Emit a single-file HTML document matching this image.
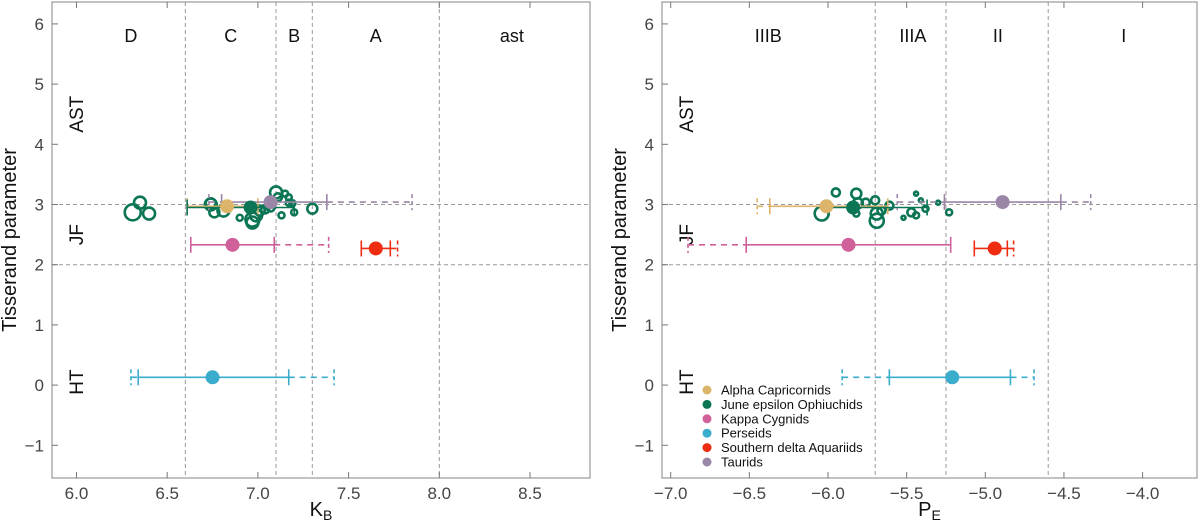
<!DOCTYPE html>
<html><head><meta charset="utf-8"><style>
body{margin:0;background:#fff;}
svg{display:block;font-family:"Liberation Sans",Arial,sans-serif;}
</style></head><body>
<svg id="chart" width="1200" height="525" viewBox="0 0 1200 525"></svg>
<script>
const NS='http://www.w3.org/2000/svg';
const svg=document.getElementById('chart');
// ---- data ----
const yTicks=[6,5,4,3,2,1,0,-1];
const leftXTicks=[6.0,6.5,7.0,7.5,8.0,8.5];
const rightXTicks=[-7.0,-6.5,-6.0,-5.5,-5.0,-4.5,-4.0];
const leftVLines=[6.6,7.1,7.3,8.0];
const rightVLines=[-5.7,-5.25,-4.6];
const hLines=[3,2];
const leftRegions=[['D',6.3],['C',6.85],['B',7.2],['A',7.65],['ast',8.4]];
const rightRegions=[['IIIB',-6.38],['IIIA',-5.46],['II',-4.92],['I',-4.12]];
const typeLabels=[['AST',4.5],['JF',2.5],['HT',0.05]];
const showers=['Alpha Capricornids','June epsilon Ophiuchids','Kappa Cygnids','Perseids','Southern delta Aquariids','Taurids'];
const colors=['#dcb56a','#0b7555','#d0609a','#3aaccc','#ee2c12','#9a86a6'];
const tisserand=[2.97,2.95,2.33,0.13,2.27,3.04];
// [point, solidLo, solidHi, dashLo, dashHi] (null = none)
const leftBars=[[6.83,6.61,7.0,null,null],[6.96,6.61,7.2,null,null],[6.86,6.63,7.09,null,7.39],[6.75,6.34,7.17,6.30,7.42],[7.65,7.57,7.73,null,7.77],[7.07,6.80,7.38,6.73,7.85]];
const rightBars=[[-6.01,-6.37,-5.62,-6.45,null],[-5.84,-6.0,-5.37,null,null],[-5.87,-6.52,-5.22,-6.89,null],[-5.21,-5.61,-4.84,-5.91,-4.69],[-4.94,-5.07,-4.86,null,-4.82],[-4.89,-5.26,-4.52,-5.56,-4.33]];
const leftOpen=[[6.74,3.02,5],[6.76,2.87,5],[6.81,2.90,6],[6.90,2.78,3],[6.97,2.75,7],[6.99,2.82,6],[7.01,2.90,5],[7.04,2.92,4],[7.07,2.95,4],[7.10,3.20,6],[7.11,3.12,4],[7.15,3.18,3],[7.17,3.12,3],[7.17,3.03,3],[7.19,3.02,3],[7.20,2.87,3],[7.13,2.82,3],[7.30,2.93,5],[6.97,2.70,6],[6.31,2.87,8],[6.35,3.03,6],[6.40,2.85,6],[6.74,3.0,6]];
const rightOpen=[[-5.95,3.20,4],[-6.04,2.85,7],[-5.82,3.18,5],[-5.81,3.02,5],[-5.76,3.03,4],[-5.70,3.07,4],[-5.69,2.85,6],[-5.69,2.73,7],[-5.61,2.98,4],[-5.66,2.90,4],[-5.52,2.78,2],[-5.47,2.87,4],[-5.44,3.18,2],[-5.41,3.07,2],[-5.44,2.82,3],[-5.38,2.93,3],[-5.30,3.03,2],[-5.23,2.87,3],[-5.82,2.85,3]];

function el(tag,attrs,parent,text){const e=document.createElementNS(NS,tag);for(const k in attrs)e.setAttribute(k,attrs[k]);if(text!==undefined)e.textContent=text;(parent||svg).appendChild(e);return e;}
const Y=v=>204.5-(v-3)*60.2;
const TOP=2,BOT=478;

function panel(cfg){
  const g=el('g',{});
  
  
  const X=cfg.X;
  cfg.vlines.forEach(v=>{const l=el('line',{x1:X(v),x2:X(v),y1:TOP,y2:BOT,stroke:'#999','stroke-width':1,'stroke-dasharray':'4,3'},g);
    });
  hLines.forEach(v=>{const l=el('line',{x1:cfg.L,x2:cfg.R,y1:Y(v),y2:Y(v),stroke:'#999','stroke-width':1,'stroke-dasharray':'4,3'},g);
    });
  const f=el('rect',{x:cfg.L,y:TOP,width:cfg.R-cfg.L,height:BOT-TOP,fill:'none',stroke:'#999','stroke-width':1.2},g);
  
  yTicks.forEach(v=>{el('line',{x1:cfg.L,x2:cfg.L+6,y1:Y(v),y2:Y(v),stroke:'#777'},g);
    const t=el('text',{x:cfg.L-8,y:Y(v)+6,'text-anchor':'end','font-size':17,fill:'#444'},g,v<0?'\u2212'+Math.abs(v):String(v));
    });
  cfg.xticks.forEach(v=>{el('line',{x1:X(v),x2:X(v),y1:BOT,y2:BOT-6,stroke:'#777'},g);el('line',{x1:X(v),x2:X(v),y1:TOP,y2:TOP+6,stroke:'#777'},g);
    const s=v.toFixed(1);const t=el('text',{x:X(v),y:499,'text-anchor':'middle','font-size':17,fill:'#444'},g,v<0?'\u2212'+s.slice(1):s);
    });
  cfg.regions.forEach(r=>{const t=el('text',{x:X(r[1]),y:42,'text-anchor':'middle','font-size':18,fill:'#111'},g,r[0]);
    });
  typeLabels.forEach(r=>{const x=cfg.L+31,y=Y(r[1]);const t=el('text',{x:x,y:y,'text-anchor':'middle','font-size':19,fill:'#111',transform:`rotate(-90 ${x} ${y})`},g,r[0]);
    });
  const xt=el('text',{x:(cfg.L+cfg.R)/2,y:516,'text-anchor':'middle','font-size':20,fill:'#111'},g);
  
  el('tspan',{},xt,cfg.xtitle[0]);el('tspan',{'font-size':14,dy:4},xt,cfg.xtitle[1]);
  const yx=cfg.L-36,yy=240;
  const yt=el('text',{x:yx,y:yy,'text-anchor':'middle','font-size':20,fill:'#111',transform:`rotate(-90 ${yx} ${yy})`},g,'Tisserand parameter');
  
  cfg.open.forEach(p=>{const c=el('circle',{cx:X(p[0]),cy:Y(p[1]),r:p[2],fill:'none',stroke:colors[1],'stroke-width':2.6},g);
    });
  cfg.bars.forEach((b,i)=>{
    const y=Y(tisserand[i]),col=colors[i];
    const eg=el('g',{},g);
    if(b[3]!==null){el('line',{x1:X(b[3]),x2:X(b[1]),y1:y,y2:y,stroke:col,'stroke-width':1.6,'stroke-dasharray':'6,5'},eg);
      el('line',{x1:X(b[3]),x2:X(b[3]),y1:y-8,y2:y+8,stroke:col,'stroke-width':1.6,'stroke-dasharray':'4,3'},eg);}
    if(b[4]!==null){el('line',{x1:X(b[2]),x2:X(b[4]),y1:y,y2:y,stroke:col,'stroke-width':1.6,'stroke-dasharray':'6,5'},eg);
      el('line',{x1:X(b[4]),x2:X(b[4]),y1:y-8,y2:y+8,stroke:col,'stroke-width':1.6,'stroke-dasharray':'4,3'},eg);}
    el('line',{x1:X(b[1]),x2:X(b[2]),y1:y,y2:y,stroke:col,'stroke-width':1.6},eg);
    [b[1],b[2]].forEach(v=>el('line',{x1:X(v),x2:X(v),y1:y-8,y2:y+8,stroke:col,'stroke-width':1.6},eg));
  });
  cfg.bars.forEach((b,i)=>{const c=el('circle',{cx:X(b[0]),cy:Y(tisserand[i]),r:7,fill:colors[i]},g);
    });
}
panel({name:'kb-panel',L:52,R:590,X:v=>76.5+(v-6)*181.4,xticks:leftXTicks,vlines:leftVLines,regions:leftRegions,bars:leftBars,open:leftOpen,xtitle:['K','B']});
panel({name:'pe-panel',L:662,R:1197,X:v=>670.7+(v+7)*157.3,xticks:rightXTicks,vlines:rightVLines,regions:rightRegions,bars:rightBars,open:rightOpen,xtitle:['P','E']});
const lg=el('g',{});
showers.forEach((s,i)=>{const y=390+i*14.4;
  const e=el('g',{},lg);
  el('circle',{cx:707,cy:y,r:4.5,fill:colors[i]},e);
  el('text',{x:721,y:y+4.5,'font-size':13,fill:'#111'},e,s);});
</script>
</body></html>
